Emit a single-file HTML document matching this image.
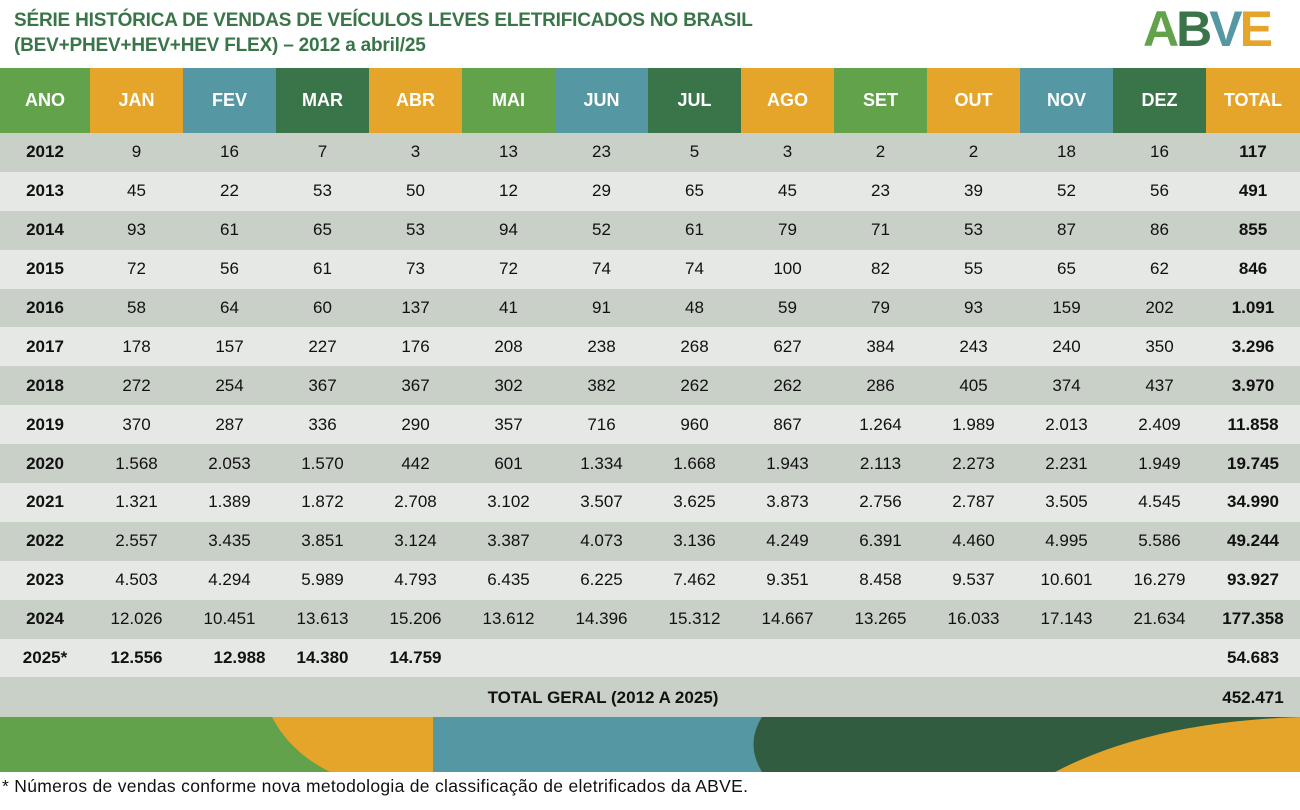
<!DOCTYPE html>
<html><head><meta charset="utf-8"><style>
*{margin:0;padding:0;box-sizing:border-box}
body{width:1300px;height:810px;background:#fff;position:relative;overflow:hidden;font-family:"Liberation Sans Narrow","Liberation Sans",sans-serif}
.t{position:absolute;left:14px;color:#3a7449;font-weight:bold;font-size:19px;letter-spacing:-0.2px}
table{position:absolute;left:0;top:68px;width:1300px;border-collapse:collapse;table-layout:fixed}
td{text-align:center;font-size:17px;color:#111;height:38.9px;padding:0}
th{height:65px;color:#fff;font-size:18px;font-weight:bold}
.g{background:#62a24b}.o{background:#e5a42a}.b{background:#5597a3}.d{background:#3a7449}
tr.dk td{background:#c9d0c8}tr.lt td{background:#e5e8e5}
td:first-child,td:last-child{font-weight:bold}
tr.bb td{font-weight:bold}
</style></head><body>
<div class="t" style="top:10px">SÉRIE HISTÓRICA DE VENDAS DE VEÍCULOS LEVES ELETRIFICADOS NO BRASIL</div>
<div class="t" style="top:35px">(BEV+PHEV+HEV+HEV FLEX) – 2012 a abril/25</div>
<div style="position:absolute;left:1143px;top:2px;font-family:'Liberation Sans Narrow','Liberation Sans',sans-serif;font-weight:bold;font-size:50px;letter-spacing:-3px;line-height:54px"><span style="color:#62a24b">A</span><span style="color:#3a7449">B</span><span style="color:#5597a3">V</span><span style="color:#e5a42a">E</span></div>
<table>
<colgroup><col style="width:90px"><col span="12" style="width:93px"><col style="width:94px"></colgroup>
<tr><th class="g">ANO</th><th class="o">JAN</th><th class="b">FEV</th><th class="d">MAR</th><th class="o">ABR</th><th class="g">MAI</th><th class="b">JUN</th><th class="d">JUL</th><th class="o">AGO</th><th class="g">SET</th><th class="o">OUT</th><th class="b">NOV</th><th class="d">DEZ</th><th class="o">TOTAL</th></tr>
<tr class="dk"><td>2012</td><td>9</td><td>16</td><td>7</td><td>3</td><td>13</td><td>23</td><td>5</td><td>3</td><td>2</td><td>2</td><td>18</td><td>16</td><td>117</td></tr>
<tr class="lt"><td>2013</td><td>45</td><td>22</td><td>53</td><td>50</td><td>12</td><td>29</td><td>65</td><td>45</td><td>23</td><td>39</td><td>52</td><td>56</td><td>491</td></tr>
<tr class="dk"><td>2014</td><td>93</td><td>61</td><td>65</td><td>53</td><td>94</td><td>52</td><td>61</td><td>79</td><td>71</td><td>53</td><td>87</td><td>86</td><td>855</td></tr>
<tr class="lt"><td>2015</td><td>72</td><td>56</td><td>61</td><td>73</td><td>72</td><td>74</td><td>74</td><td>100</td><td>82</td><td>55</td><td>65</td><td>62</td><td>846</td></tr>
<tr class="dk"><td>2016</td><td>58</td><td>64</td><td>60</td><td>137</td><td>41</td><td>91</td><td>48</td><td>59</td><td>79</td><td>93</td><td>159</td><td>202</td><td>1.091</td></tr>
<tr class="lt"><td>2017</td><td>178</td><td>157</td><td>227</td><td>176</td><td>208</td><td>238</td><td>268</td><td>627</td><td>384</td><td>243</td><td>240</td><td>350</td><td>3.296</td></tr>
<tr class="dk"><td>2018</td><td>272</td><td>254</td><td>367</td><td>367</td><td>302</td><td>382</td><td>262</td><td>262</td><td>286</td><td>405</td><td>374</td><td>437</td><td>3.970</td></tr>
<tr class="lt"><td>2019</td><td>370</td><td>287</td><td>336</td><td>290</td><td>357</td><td>716</td><td>960</td><td>867</td><td>1.264</td><td>1.989</td><td>2.013</td><td>2.409</td><td>11.858</td></tr>
<tr class="dk"><td>2020</td><td>1.568</td><td>2.053</td><td>1.570</td><td>442</td><td>601</td><td>1.334</td><td>1.668</td><td>1.943</td><td>2.113</td><td>2.273</td><td>2.231</td><td>1.949</td><td>19.745</td></tr>
<tr class="lt"><td>2021</td><td>1.321</td><td>1.389</td><td>1.872</td><td>2.708</td><td>3.102</td><td>3.507</td><td>3.625</td><td>3.873</td><td>2.756</td><td>2.787</td><td>3.505</td><td>4.545</td><td>34.990</td></tr>
<tr class="dk"><td>2022</td><td>2.557</td><td>3.435</td><td>3.851</td><td>3.124</td><td>3.387</td><td>4.073</td><td>3.136</td><td>4.249</td><td>6.391</td><td>4.460</td><td>4.995</td><td>5.586</td><td>49.244</td></tr>
<tr class="lt"><td>2023</td><td>4.503</td><td>4.294</td><td>5.989</td><td>4.793</td><td>6.435</td><td>6.225</td><td>7.462</td><td>9.351</td><td>8.458</td><td>9.537</td><td>10.601</td><td>16.279</td><td>93.927</td></tr>
<tr class="dk"><td>2024</td><td>12.026</td><td>10.451</td><td>13.613</td><td>15.206</td><td>13.612</td><td>14.396</td><td>15.312</td><td>14.667</td><td>13.265</td><td>16.033</td><td>17.143</td><td>21.634</td><td>177.358</td></tr>
<tr class="lt bb"><td>2025*</td><td>12.556</td><td style="padding-left:20px">12.988</td><td>14.380</td><td>14.759</td><td></td><td></td><td></td><td></td><td></td><td></td><td></td><td></td><td>54.683</td></tr>
<tr class="dk bb"><td colspan="13" style="height:41px">TOTAL GERAL (2012 A 2025)</td><td>452.471</td></tr>
</table>
<svg style="position:absolute;left:0;top:717px" width="1300" height="55">
<rect x="0" y="0" width="433" height="55" fill="#e5a42a"/>
<path d="M0 0 H272 Q290 35 330 55 H0Z" fill="#62a24b"/>
<rect x="433" y="0" width="330" height="55" fill="#5597a3"/>
<path d="M762 0 H1300 V55 H762 Q745 27 762 0Z" fill="#325c40"/>
<path d="M1055 55 Q1150 5 1300 0 V55Z" fill="#e5a42a"/>
</svg>
<div style="position:absolute;left:2px;top:776px;font-size:17.5px;letter-spacing:0.3px;color:#111">* Números de vendas conforme nova metodologia de classificação de eletrificados da ABVE.</div>
</body></html>
